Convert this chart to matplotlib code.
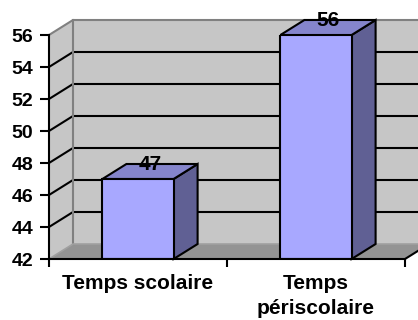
import matplotlib.pyplot as plt
from matplotlib.patches import Polygon

plt.rcParams['font.family'] = ['Liberation Sans', 'DejaVu Sans']
plt.rcParams['font.weight'] = 'bold'

# data
categories = ['Temps scolaire', 'Temps\npériscolaire']
values = [47, 56]
yticks = [42, 44, 46, 48, 50, 52, 54, 56]
ymin, ymax = 42, 56

front_col = '#A8A8FF'
top_col = '#8585CC'
side_col = '#606094'
wall_col = '#C6C6C6'
floor_col = '#939393'
edge_gray = '#808080'

fig = plt.figure(figsize=(4.18, 3.2), dpi=100)
W, H = 418, 320
left, right, top, bottom = 49, 405, 35, 259
ax = fig.add_axes([left / W, (H - bottom) / H, (right - left) / W, (bottom - top) / H])
n = len(categories)
ax.set_xlim(0, n)
ax.set_ylim(ymin, ymax)

# depth of the 3d box, pixels -> data units
dx = 24 / ((right - left) / n)
dy = 15 / ((bottom - top) / (ymax - ymin))

# walls and floor
ax.add_patch(Polygon([(dx, ymin + dy), (n + dx, ymin + dy), (n + dx, ymax + dy), (dx, ymax + dy)],
                     closed=True, fc=wall_col, ec='none', clip_on=False, zorder=0))
ax.add_patch(Polygon([(0, ymin), (dx, ymin + dy), (dx, ymax + dy), (0, ymax)],
                     closed=True, fc=wall_col, ec='none', clip_on=False, zorder=0))
ax.add_patch(Polygon([(0, ymin), (n, ymin), (n + dx, ymin + dy), (dx, ymin + dy)],
                     closed=True, fc=floor_col, ec='none', clip_on=False, zorder=0.5))

# gridlines: front-left diagonal + back wall line
for y in yticks[1:-1]:
    ax.plot([0, dx, n + dx], [y, y + dy, y + dy], color='black', lw=1.5,
            clip_on=False, zorder=1, solid_capstyle='butt')
# wall edges
ax.plot([0, dx, n + dx], [ymax, ymax + dy, ymax + dy], color=edge_gray, lw=1.5, clip_on=False, zorder=1)
ax.plot([dx, dx], [ymin + dy, ymax + dy], color=edge_gray, lw=1.5, clip_on=False, zorder=1)
ax.plot([0, dx, n + dx], [ymin, ymin + dy, ymin + dy], color='#a0a0a0', lw=1.2, clip_on=False, zorder=1)
ax.plot([n, n + dx], [ymin, ymin + dy], color='black', lw=1.5, clip_on=False, zorder=1)

# bars
bw = 0.4
xs = [i + 0.5 for i in range(n)]
ax.bar(xs, [v - ymin for v in values], bottom=ymin, width=bw, color=front_col,
       edgecolor='black', lw=1.5, zorder=3)
for x, v in zip(xs, values):
    x0, x1 = x - bw / 2, x + bw / 2
    ax.add_patch(Polygon([(x1, ymin), (x1 + dx, ymin + dy), (x1 + dx, v + dy), (x1, v)],
                         closed=True, fc=side_col, ec='black', lw=1.5, clip_on=False, zorder=2.5))
    ax.add_patch(Polygon([(x0, v), (x0 + dx, v + dy), (x1 + dx, v + dy), (x1, v)],
                         closed=True, fc=top_col, ec='black', lw=1.5, clip_on=False, zorder=2.5))
    ax.text(x + dx / 2, v + dy, str(v), ha='center', va='center', fontsize=15,
            fontweight='bold', zorder=5)

# axes
for s in ['top', 'right']:
    ax.spines[s].set_visible(False)
for s in ['left', 'bottom']:
    ax.spines[s].set_linewidth(1.5)
    ax.spines[s].set_zorder(4)
ax.set_yticks(yticks)
ax.set_yticklabels([str(t) for t in yticks], fontsize=14, fontweight='bold')
ax.tick_params(axis='y', length=6.5, width=1.5, pad=5)
ax.set_xticks(range(n + 1))
ax.set_xticklabels([''] * (n + 1))
ax.tick_params(axis='x', which='major', length=6, width=1.5)
ax.set_xticks(xs, minor=True)
ax.set_xticklabels(categories, minor=True, fontsize=15, fontweight='bold', linespacing=1.4)
ax.tick_params(axis='x', which='minor', length=0, pad=11)
ax.set_facecolor('none')

fig.savefig('out.png', dpi=100)
